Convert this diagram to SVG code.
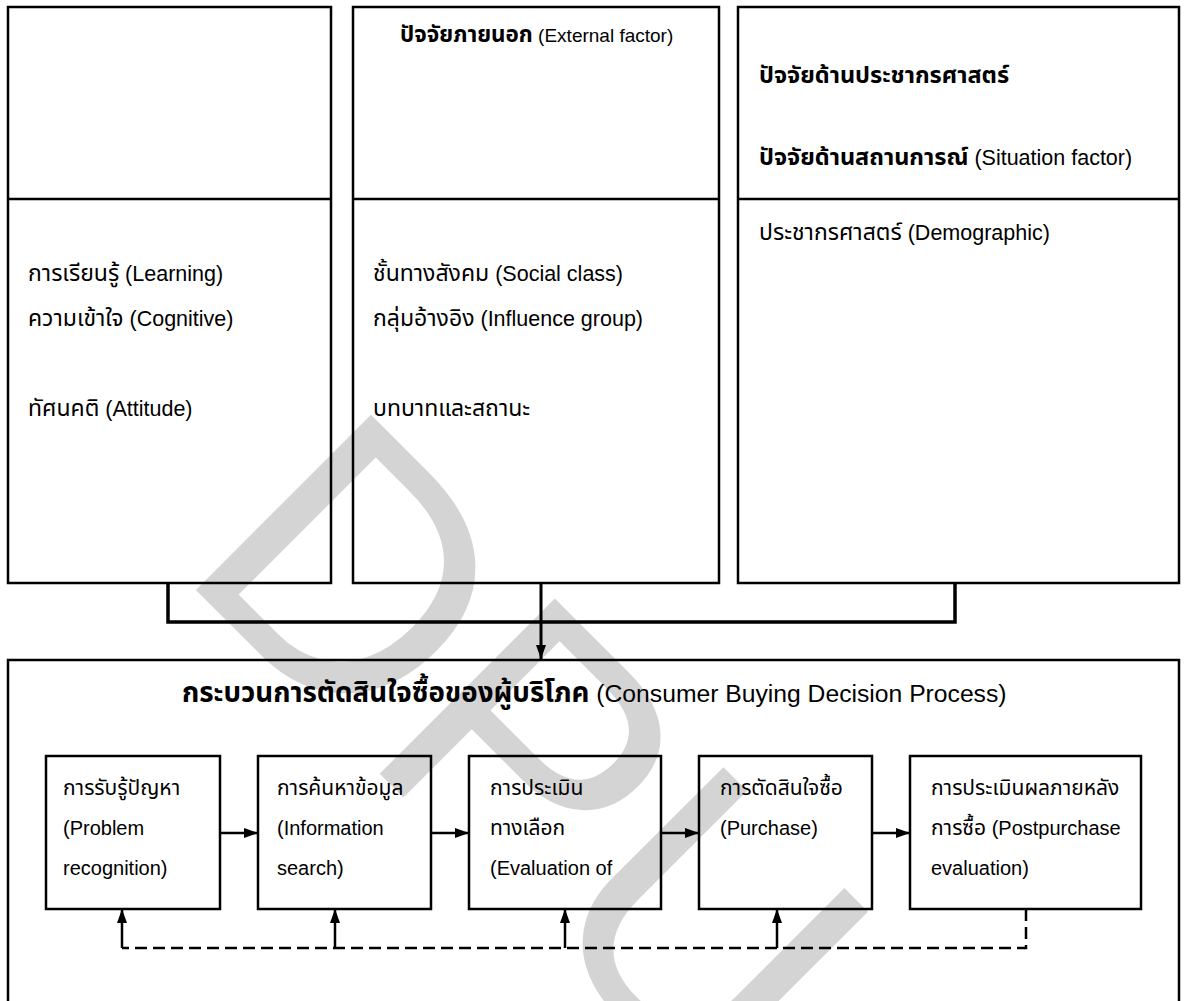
<svg xmlns="http://www.w3.org/2000/svg" width="1186" height="1001" viewBox="0 0 1186 1001">
<style>
text{font-family:"Liberation Sans","Noto Sans Thai","Noto Sans",sans-serif;fill:#000}
.th{font-size:23px}
.en{font-size:21.5px}
.pth{font-size:21px}
.pen{font-size:20px}
.b{font-weight:bold}
.box{fill:none;stroke:#000;stroke-width:2.5}
.pbox{fill:none;stroke:#000;stroke-width:2.5}
.conn{fill:none;stroke:#000;stroke-width:3.5}
.arr{fill:none;stroke:#000;stroke-width:2.5}
.dash{fill:none;stroke:#000;stroke-width:2.5;stroke-dasharray:12 6}
.wm{font-family:"Liberation Sans",sans-serif;font-size:360px;fill:#d4d4d4}
</style>
<defs>
<marker id="ah" viewBox="0 0 14 10" refX="14" refY="5" markerWidth="14" markerHeight="10" orient="auto" markerUnits="userSpaceOnUse"><path d="M0,0 L14,5 L0,10 Z" fill="#000"/></marker>
</defs>
<rect width="1186" height="1001" fill="#fff"/>
<text class="wm" transform="translate(175,569) rotate(45)">DPU</text>

<g id="box-internal">
<rect class="box" x="8" y="7" width="323" height="576"/>
<line class="box" x1="8" y1="199" x2="331" y2="199"/>
<text x="28" y="281"><tspan class="th">การเรียนรู้</tspan><tspan class="en"> (Learning)</tspan></text>
<text x="28" y="326"><tspan class="th">ความเข้าใจ</tspan><tspan class="en"> (Cognitive)</tspan></text>
<text x="28" y="416"><tspan class="th">ทัศนคติ</tspan><tspan class="en"> (Attitude)</tspan></text>
</g>

<g id="box-external">
<rect class="box" x="353" y="7" width="366" height="576"/>
<line class="box" x1="353" y1="199" x2="719" y2="199"/>
<text x="400" y="42"><tspan class="b" style="font-size:22.4px">ปัจจัยภายนอก</tspan><tspan style="font-size:19px"> (External factor)</tspan></text>
<text x="373" y="281"><tspan class="th">ชั้นทางสังคม</tspan><tspan class="en"> (Social class)</tspan></text>
<text x="373" y="326"><tspan class="th">กลุ่มอ้างอิง</tspan><tspan class="en"> (Influence group)</tspan></text>
<text class="th" x="373" y="416">บทบาทและสถานะ</text>
</g>

<g id="box-demographic">
<rect class="box" x="738" y="7" width="441" height="576"/>
<line class="box" x1="738" y1="199" x2="1179" y2="199"/>
<text class="b" x="759" y="83" style="font-size:23.5px">ปัจจัยด้านประชากรศาสตร์</text>
<text x="759" y="165"><tspan class="b" style="font-size:23.5px">ปัจจัยด้านสถานการณ์</tspan><tspan class="en"> (Situation factor)</tspan></text>
<text x="759" y="240"><tspan class="th">ประชากรศาสตร์</tspan><tspan class="en"> (Demographic)</tspan></text>
</g>

<g id="box-process">
<rect class="box" x="8" y="660" width="1171" height="360"/>
<text x="182" y="702"><tspan class="b" style="font-size:27.7px">กระบวนการตัดสินใจซื้อของผู้บริโภค</tspan><tspan style="font-size:24.7px"> (Consumer Buying Decision Process)</tspan></text>
</g>

<g id="step-problem">
<rect class="pbox" x="46" y="756" width="174" height="153"/>
<text class="pth" x="63" y="795">การรับรู้ปัญหา</text>
<text class="pen" x="63" y="835">(Problem</text>
<text class="pen" x="63" y="875">recognition)</text>
</g>
<g id="step-search">
<rect class="pbox" x="258" y="756" width="173" height="153"/>
<text class="pth" x="277" y="795">การค้นหาข้อมูล</text>
<text class="pen" x="277" y="835">(Information</text>
<text class="pen" x="277" y="875">search)</text>
</g>
<g id="step-evaluation">
<rect class="pbox" x="469" y="756" width="192" height="153"/>
<text class="pth" x="490" y="795">การประเมิน</text>
<text class="pth" x="490" y="835">ทางเลือก</text>
<text class="pen" x="490" y="875">(Evaluation of</text>
</g>
<g id="step-purchase">
<rect class="pbox" x="699" y="756" width="173" height="153"/>
<text class="pth" x="720" y="795">การตัดสินใจซื้อ</text>
<text class="pen" x="720" y="835">(Purchase)</text>
</g>
<g id="step-post">
<rect class="pbox" x="910" y="756" width="231" height="153"/>
<text class="pth" x="931" y="795">การประเมินผลภายหลัง</text>
<text x="931" y="835"><tspan class="pth">การซื้อ</tspan><tspan class="pen"> (Postpurchase</tspan></text>
<text class="pen" x="931" y="875">evaluation)</text>
</g>

<g id="connectors">
<polyline class="conn" points="168,583 168,622 955,622 955,583"/>
<line class="arr" x1="541" y1="583" x2="541" y2="659" marker-end="url(#ah)" style="stroke-width:3"/>
<line class="arr" x1="220" y1="833" x2="258" y2="833" marker-end="url(#ah)"/>
<line class="arr" x1="431" y1="833" x2="469" y2="833" marker-end="url(#ah)"/>
<line class="arr" x1="661" y1="833" x2="699" y2="833" marker-end="url(#ah)"/>
<line class="arr" x1="872" y1="833" x2="910" y2="833" marker-end="url(#ah)"/>
<polyline class="dash" points="1026,909 1026,948 122,948"/>
<line class="arr" x1="122" y1="948" x2="122" y2="909" marker-end="url(#ah)"/>
<line class="arr" x1="335" y1="948" x2="335" y2="909" marker-end="url(#ah)"/>
<line class="arr" x1="565" y1="948" x2="565" y2="909" marker-end="url(#ah)"/>
<line class="arr" x1="777" y1="948" x2="777" y2="909" marker-end="url(#ah)"/>
</g>
</svg>
